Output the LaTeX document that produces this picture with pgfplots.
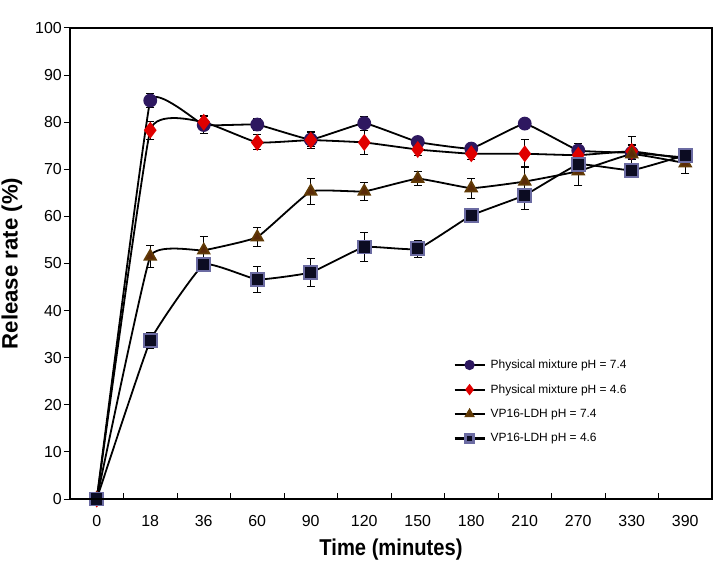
\documentclass[border=0pt]{standalone}
\usepackage{fontspec}
\setmainfont{Liberation Sans}
\newfontfamily\narrowfont[FakeStretch=0.88]{Liberation Sans}
\usepackage{pgfplots}
\usepackage{pgfplotstable}
\pgfplotsset{compat=1.18}
\definecolor{pmpurple}{HTML}{2E1860}
\definecolor{pmred}{HTML}{E00000}
\definecolor{ldhbrown}{HTML}{5A2A08}
\definecolor{ldhnavy}{HTML}{0C0C22}

\pgfplotstableread{
x y e
0 0 0
1 84.6 1.5
2 79.4 1.9
3 79.5 1.3
4 76.3 1.5
5 79.8 1.5
6 75.8 1.0
7 74.4 1.0
8 79.7 1.0
9 74.0 1.4
10 73.5 1.5
11 72.5 1.5
}\pmA
\pgfplotstableread{
x y e
0 0 0
1 78.3 1.9
2 80.0 1.4
3 75.7 1.6
4 76.2 1.8
5 75.7 2.5
6 74.2 1.2
7 73.3 1.3
8 73.3 3.0
9 73.0 1.2
10 73.8 3.2
11 72.2 1.5
}\pmB
\pgfplotstableread{
x y e
0 0 0
1 51.5 2.3
2 52.8 2.9
3 55.6 2.0
4 65.3 2.7
5 65.3 1.9
6 68.0 1.5
7 66.0 2.1
8 67.4 3.2
9 69.6 3.1
10 73.2 2.0
11 71.3 2.1
}\ldhA
\pgfplotstableread{
x y e
0 0 0
1 33.6 1.7
2 49.8 1.0
3 46.6 2.8
4 48.1 2.9
5 53.5 3.0
6 53.1 1.8
7 60.2 0.8
8 64.5 3.0
9 71.0 1.5
10 69.8 1.2
11 73.0 1.5
}\ldhB

\begin{document}
\begin{tikzpicture}
\begin{axis}[
  scale only axis, width=642bp, height=471bp,
  xmin=-0.5, xmax=11.5, ymin=0, ymax=100,
  axis lines=box,
  axis line style={black, line width=1.1bp},
  xtick={0.5,1.5,...,10.5}, xticklabels={},
  extra x ticks={0,1,2,3,4,5,6,7,8,9,10,11},
  extra x tick labels={0,18,36,60,90,120,150,180,210,270,330,390},
  extra x tick style={major tick length=0pt},
  ytick={0,10,...,100},
  xtick pos=bottom, ytick pos=left,
  tick align=inside,
  major tick length=6bp,
  tick style={black, line width=1bp},
  y tick style={xshift=-6bp},
  /pgf/number format/assume math mode=true,
  tick label style={font=\fontsize{16}{18}\selectfont},
  yticklabel style={inner sep=0pt, xshift=-8bp},
  xticklabel style={inner sep=0pt, yshift=-16bp},
  xlabel={\narrowfont\bfseries Time (minutes)},
  ylabel={\bfseries Release rate (\%)},
  xlabel style={font=\fontsize{23}{26}\selectfont, at={(axis description cs:0.5,0)}, anchor=center, yshift=-51bp},
  ylabel style={font=\fontsize{22.3}{26}\selectfont, at={(axis description cs:0,0.5)}, anchor=center, rotate=0, yshift=58bp},
  legend cell align=left,
  legend style={draw=none, fill=none, at={(axis description cs:0.597,0.30)}, anchor=north west,
    font=\fontsize{12}{14}\selectfont, row sep=10.5bp, inner sep=0pt,
    /tikz/every odd column/.append style={column sep=3bp}},
  legend image code/.code={\draw[mark repeat=2, mark phase=2, mark size=4bp, line width=2.2bp] plot coordinates {(0bp,0bp) (15bp,0bp) (30bp,0bp)};},
  error bars/y dir=both, error bars/y explicit,
  error bars/error bar style={black, line width=1bp},
  error bars/error mark options={black, rotate=90, mark size=4bp, line width=1bp},
]
\addplot[black, line width=1.8bp, smooth, tension=0.15, mark=*, mark size=6bp, mark options={draw=pmpurple, fill=pmpurple}]
  table[x=x, y=y, y error=e]{\pmA};
\addlegendentry{Physical mixture pH = 7.4}
\addplot[black, line width=1.8bp, smooth, tension=0.2, mark=diamond*, mark size=7bp, mark options={draw=pmred, fill=pmred}]
  table[x=x, y=y, y error=e]{\pmB};
\addlegendentry{Physical mixture pH = 4.6}
\addplot[black, line width=1.8bp, smooth, tension=0.2, mark=triangle*, mark size=6.5bp, mark options={draw=ldhbrown!80!olive, fill=ldhbrown}]
  table[x=x, y=y, y error=e]{\ldhA};
\addlegendentry{VP16-LDH pH = 7.4}
\addplot[black, line width=1.8bp, smooth, tension=0.2, mark=square*, mark size=6.5bp, mark options={draw=ldhnavy!70!blue!60!white, fill=ldhnavy}]
  table[x=x, y=y, y error=e]{\ldhB};
\addlegendentry{VP16-LDH pH = 4.6}
\end{axis}
\draw[black, line width=1.1bp] (current axis.south west) rectangle (current axis.north east);
\pgfresetboundingbox
\path (current axis.south west) ++(-70bp,-66bp) rectangle ([xshift=1bp, yshift=28bp]current axis.north east);
\end{tikzpicture}
\end{document}
